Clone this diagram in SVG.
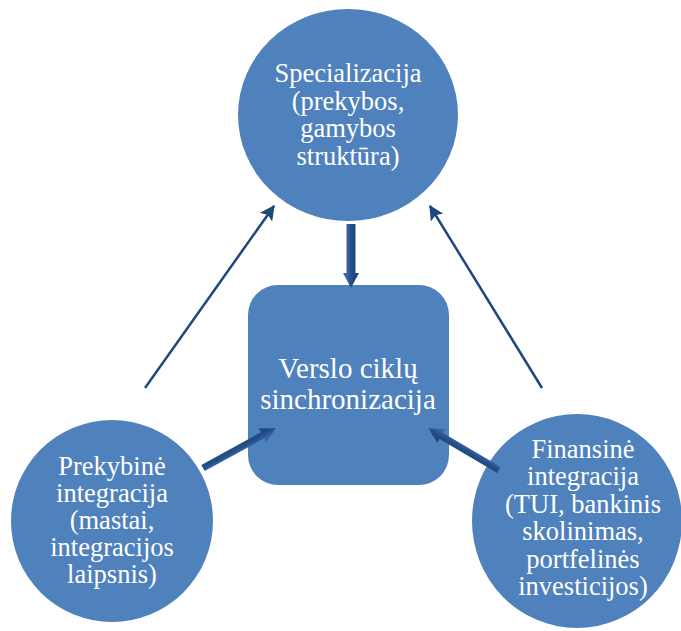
<svg xmlns="http://www.w3.org/2000/svg" width="681" height="631" viewBox="0 0 681 631">
<style>
.node{fill:#4F81BD;}
.t{font-family:"Liberation Serif","Times New Roman",serif;fill:#FFFFFF;text-anchor:middle;font-size:26.5px;}
.tc{font-size:29px;}
.thin{stroke:#1F497D;stroke-width:2.5;fill:none;marker-end:url(#ah);}
.block{fill:url(#bg);}
</style>
<defs>
<marker id="ah" viewBox="0 0 12 12" refX="11" refY="6" markerWidth="6" markerHeight="6" orient="auto" markerUnits="strokeWidth">
<path d="M0,0 L12,6 L0,12 L2.5,6 Z" fill="#1F497D"/>
</marker>
<linearGradient id="bg" gradientUnits="userSpaceOnUse" x1="0" y1="-4" x2="0" y2="4">
<stop offset="0" stop-color="#1F497D"/>
<stop offset="0.5" stop-color="#244F88"/>
<stop offset="1" stop-color="#3A66A3"/>
</linearGradient>
</defs>
<g id="specializacija">
<ellipse class="node" cx="348" cy="115" rx="110" ry="106"/>
<text class="t" x="348" y="82">Specializacija</text>
<text class="t" x="348" y="110">(prekybos,</text>
<text class="t" x="348" y="137">gamybos</text>
<text class="t" x="348" y="165">struktūra)</text>
</g>
<g id="verslo">
<rect class="node" x="248" y="285" width="201" height="200" rx="30" ry="30"/>
<text class="t tc" x="348" y="378">Verslo ciklų</text>
<text class="t tc" x="348" y="409">sinchronizacija</text>
</g>
<g id="prekybine">
<ellipse class="node" cx="112" cy="521" rx="101" ry="101"/>
<text class="t" x="112" y="475">Prekybinė</text>
<text class="t" x="112" y="502">integracija</text>
<text class="t" x="112" y="529">(mastai,</text>
<text class="t" x="112" y="556">integracijos</text>
<text class="t" x="112" y="583">laipsnis)</text>
</g>
<g id="finansine">
<ellipse class="node" cx="577" cy="521" rx="105" ry="107"/>
<text class="t" x="583" y="458">Finansinė</text>
<text class="t" x="583" y="485">integracija</text>
<text class="t" x="583" y="513">(TUI, bankinis</text>
<text class="t" x="583" y="540">skolinimas,</text>
<text class="t" x="583" y="568">portfelinės</text>
<text class="t" x="583" y="595">investicijos)</text>
</g>
<g id="connectors">
<line class="thin" x1="145" y1="388" x2="274" y2="206"/>
<line class="thin" x1="542" y1="388" x2="430" y2="206"/>
<path class="block" transform="translate(351,224) rotate(90)" d="M0,-4.5 L49,-4.5 L49,-8 L64,0 L49,8 L49,4.5 L0,4.5 Z"/>
<path class="block" transform="translate(203,468) rotate(-28.7)" d="M0,-3.5 L68,-3.5 L68,-8 L83,0 L68,8 L68,3.5 L0,3.5 Z"/>
<path class="block" transform="translate(499,470) rotate(-149.4)" d="M0,-3.5 L67,-3.5 L67,-8 L82,0 L67,8 L67,3.5 L0,3.5 Z"/>
</g>
</svg>
